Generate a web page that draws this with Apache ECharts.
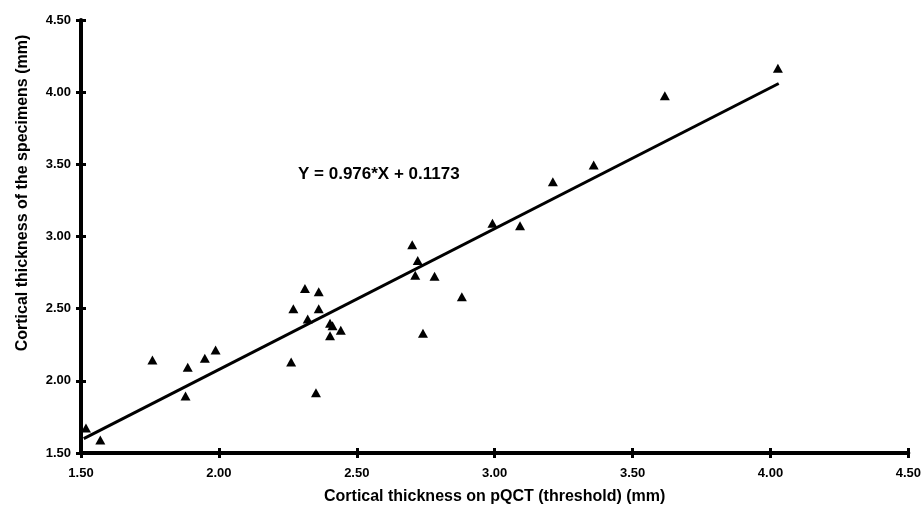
<!DOCTYPE html>
<html lang="en">
<head>
<meta charset="UTF-8">
<title>Cortical thickness: pQCT vs specimens</title>
<script src="https://cdn.jsdelivr.net/npm/echarts@6/dist/echarts.min.js"></script>
<style>
    html, body { margin: 0; padding: 0; background: #fff; }
    #chart { width: 924px; height: 514px; }
</style>
</head>
<body>
<div id="chart"></div>
<script>
    // pQCT threshold thickness (x) vs specimen thickness (y), mm
    var pqctX = [1.518, 1.570, 1.759, 1.879, 1.887, 1.949, 1.988, 2.262, 2.270, 2.312,
                 2.322, 2.352, 2.362, 2.362, 2.403, 2.412, 2.403, 2.442, 2.701, 2.721,
                 2.712, 2.782, 2.881, 2.740, 2.992, 3.092, 3.211, 3.359, 3.617, 4.027];
    var specimenY = [1.673, 1.590, 2.144, 1.895, 2.094, 2.156, 2.214, 2.131, 2.500, 2.639,
                     2.429, 1.918, 2.618, 2.500, 2.399, 2.382, 2.313, 2.350, 2.943, 2.833,
                     2.731, 2.724, 2.583, 2.330, 3.092, 3.075, 3.380, 3.496, 3.975, 4.165];

    // regression line end points
    var fitX = [1.51, 4.03];
    var fitY = [1.60, 4.06];

    var equationText = 'Y = 0.976*X + 0.1173';
    var xName = 'Cortical thickness on pQCT (threshold) (mm)';
    var yName = 'Cortical thickness of the specimens (mm)';

    var axisMin = 1.5, axisMax = 4.5, axisStep = 0.5;

    var FONT = '"Liberation Sans", Arial, sans-serif';

    function zip(xs, ys) {
        return xs.map(function (x, i) { return [x, ys[i]]; });
    }

    function tick_label(v) {
        return v.toFixed(2);
    }

    // one axis draws line, outer ticks and labels; the twin adds the inner half of each tick
    function make_axis(pos, twin) {
        return {
            type: 'value',
            position: pos,
            min: axisMin,
            max: axisMax,
            interval: axisStep,
            splitLine: {show: false},
            axisLine: {show: !twin, onZero: false, lineStyle: {color: '#000', width: 4}},
            axisTick: {show: true, inside: twin, length: 5, lineStyle: {color: '#000', width: 3}},
            axisLabel: {
                show: !twin,
                formatter: tick_label,
                color: '#000',
                fontFamily: FONT,
                fontWeight: 'bold',
                fontSize: 13,
                margin: pos === 'bottom' ? 14 : 10
            }
        };
    }

    var myChart = echarts.init(document.getElementById('chart'), null, {renderer: 'canvas'});

    var xMain = make_axis('bottom', false);
    xMain.name = xName;
    xMain.nameLocation = 'middle';
    xMain.nameGap = 36;
    xMain.nameTextStyle = {color: '#000', fontFamily: FONT, fontWeight: 'bold', fontSize: 16};

    myChart.setOption({
        animation: false,
        backgroundColor: '#fff',
        grid: {left: 81, right: 12, top: 20, bottom: 61, containLabel: false},
        xAxis: [xMain, make_axis('bottom', true)],
        yAxis: [make_axis('left', false), make_axis('left', true)],
        graphic: [
            {
                type: 'text',
                x: 23,
                y: 193,
                rotation: Math.PI / 2,
                style: {
                    text: yName,
                    fill: '#000',
                    font: 'bold 16px ' + FONT,
                    align: 'center',
                    verticalAlign: 'middle'
                }
            },
            {
                type: 'text',
                x: 298,
                y: 174,
                style: {
                    text: equationText,
                    fill: '#000',
                    font: 'bold 17px ' + FONT,
                    align: 'left',
                    verticalAlign: 'middle'
                }
            }
        ],
        series: [
            {
                type: 'line',
                data: zip(fitX, fitY),
                showSymbol: false,
                symbol: 'none',
                lineStyle: {color: '#000', width: 3},
                z: 2
            },
            {
                type: 'scatter',
                data: zip(pqctX, specimenY),
                symbol: 'triangle',
                symbolSize: [10, 9],
                itemStyle: {color: '#000', opacity: 1},
                z: 3
            }
        ]
    });
</script>
</body>
</html>
